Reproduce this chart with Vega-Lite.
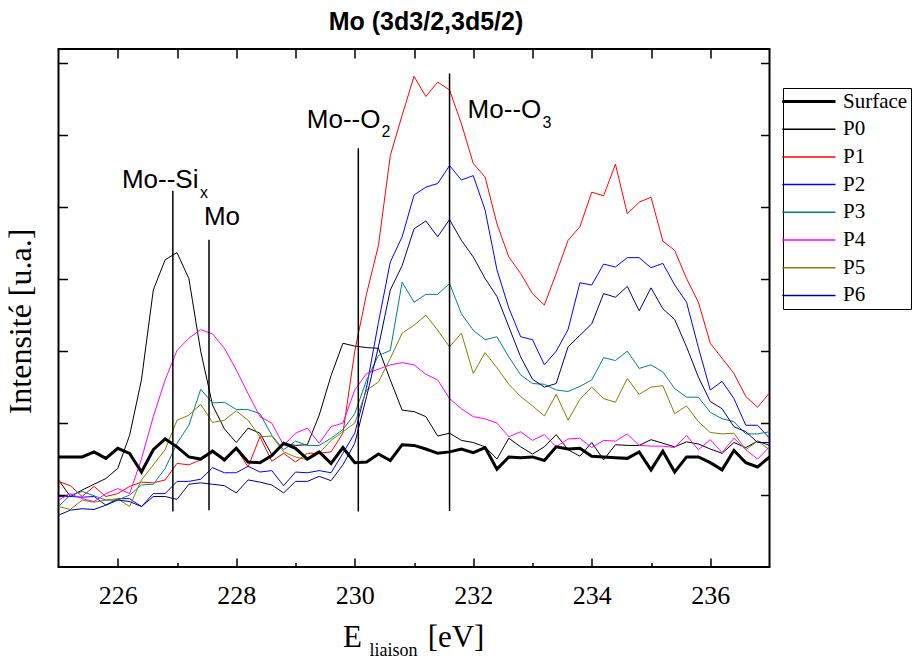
{
"$schema": "https://vega.github.io/schema/vega-lite/v6.json",
"width": 711, "height": 518,
"autosize": {"type": "none"},
"padding": {"left": 58.5, "top": 49, "right": 143.5, "bottom": 93},
"background": "white",
"config": {
  "view": {"stroke": "black", "strokeWidth": 2},
  "axis": {"domain": false, "grid": false, "tickColor": "black", "tickWidth": 1.5, "labelFont": "Liberation Serif", "labelFontSize": 26, "labelColor": "black", "titleFont": "Liberation Serif", "titleFontSize": 32, "titleFontWeight": "normal", "titleColor": "black"}
},
"title": {"text": "Mo (3d3/2,3d5/2)", "font": "Liberation Sans", "fontSize": 25, "fontWeight": "bold", "color": "black", "anchor": "middle", "dx": 12, "offset": 19, "dy": 26, "baseline": "alphabetic"},
"datasets": {
"spectra": [
{"E":225.0,"s":"P0","v":1.21},{"E":225.2,"s":"P0","v":0.98},{"E":225.4,"s":"P0","v":1.07},{"E":225.6,"s":"P0","v":1.15},{"E":225.8,"s":"P0","v":1.23},{"E":226.0,"s":"P0","v":1.37},{"E":226.2,"s":"P0","v":1.83},{"E":226.4,"s":"P0","v":2.60},{"E":226.6,"s":"P0","v":3.85},{"E":226.8,"s":"P0","v":4.27},{"E":227.0,"s":"P0","v":4.37},{"E":227.2,"s":"P0","v":4.01},{"E":227.4,"s":"P0","v":3.00},{"E":227.6,"s":"P0","v":2.25},{"E":227.8,"s":"P0","v":1.92},{"E":228.0,"s":"P0","v":1.73},{"E":228.2,"s":"P0","v":1.93},{"E":228.4,"s":"P0","v":1.86},{"E":228.6,"s":"P0","v":1.56},{"E":228.8,"s":"P0","v":1.72},{"E":229.0,"s":"P0","v":1.69},{"E":229.2,"s":"P0","v":1.70},{"E":229.4,"s":"P0","v":2.11},{"E":229.6,"s":"P0","v":2.66},{"E":229.8,"s":"P0","v":3.11},{"E":230.0,"s":"P0","v":3.07},{"E":230.2,"s":"P0","v":3.05},{"E":230.4,"s":"P0","v":3.04},{"E":230.6,"s":"P0","v":2.60},{"E":230.8,"s":"P0","v":2.18},{"E":231.0,"s":"P0","v":2.16},{"E":231.2,"s":"P0","v":2.09},{"E":231.4,"s":"P0","v":1.82},{"E":231.6,"s":"P0","v":1.86},{"E":231.8,"s":"P0","v":1.76},{"E":232.0,"s":"P0","v":1.73},{"E":232.2,"s":"P0","v":1.67},{"E":232.4,"s":"P0","v":1.50},{"E":232.6,"s":"P0","v":1.79},{"E":232.8,"s":"P0","v":1.67},{"E":233.0,"s":"P0","v":1.57},{"E":233.2,"s":"P0","v":1.67},{"E":233.4,"s":"P0","v":1.84},{"E":233.6,"s":"P0","v":1.63},{"E":233.8,"s":"P0","v":1.54},{"E":234.0,"s":"P0","v":1.73},{"E":234.2,"s":"P0","v":1.49},{"E":234.4,"s":"P0","v":1.70},{"E":234.6,"s":"P0","v":1.69},{"E":234.8,"s":"P0","v":1.69},{"E":235.0,"s":"P0","v":1.77},{"E":235.2,"s":"P0","v":1.72},{"E":235.4,"s":"P0","v":1.67},{"E":235.6,"s":"P0","v":1.74},{"E":235.8,"s":"P0","v":1.71},{"E":236.0,"s":"P0","v":1.64},{"E":236.2,"s":"P0","v":1.58},{"E":236.4,"s":"P0","v":1.73},{"E":236.6,"s":"P0","v":1.66},{"E":236.8,"s":"P0","v":1.75},{"E":237.0,"s":"P0","v":1.69},
{"E":225.0,"s":"P1","v":1.19},{"E":225.2,"s":"P1","v":1.13},{"E":225.4,"s":"P1","v":0.98},{"E":225.6,"s":"P1","v":1.12},{"E":225.8,"s":"P1","v":0.98},{"E":226.0,"s":"P1","v":1.02},{"E":226.2,"s":"P1","v":1.12},{"E":226.4,"s":"P1","v":1.18},{"E":226.6,"s":"P1","v":1.17},{"E":226.8,"s":"P1","v":1.21},{"E":227.0,"s":"P1","v":1.44},{"E":227.2,"s":"P1","v":1.42},{"E":227.4,"s":"P1","v":1.49},{"E":227.6,"s":"P1","v":1.63},{"E":227.8,"s":"P1","v":1.46},{"E":228.0,"s":"P1","v":1.65},{"E":228.2,"s":"P1","v":1.39},{"E":228.4,"s":"P1","v":1.81},{"E":228.6,"s":"P1","v":1.47},{"E":228.8,"s":"P1","v":1.58},{"E":229.0,"s":"P1","v":1.46},{"E":229.2,"s":"P1","v":1.58},{"E":229.4,"s":"P1","v":1.58},{"E":229.6,"s":"P1","v":1.60},{"E":229.8,"s":"P1","v":1.86},{"E":230.0,"s":"P1","v":3.00},{"E":230.2,"s":"P1","v":3.80},{"E":230.4,"s":"P1","v":4.47},{"E":230.6,"s":"P1","v":5.72},{"E":230.8,"s":"P1","v":6.28},{"E":231.0,"s":"P1","v":6.82},{"E":231.2,"s":"P1","v":6.54},{"E":231.4,"s":"P1","v":6.74},{"E":231.6,"s":"P1","v":6.63},{"E":231.8,"s":"P1","v":6.16},{"E":232.0,"s":"P1","v":5.61},{"E":232.2,"s":"P1","v":5.42},{"E":232.4,"s":"P1","v":4.77},{"E":232.6,"s":"P1","v":4.31},{"E":232.8,"s":"P1","v":4.08},{"E":233.0,"s":"P1","v":3.80},{"E":233.2,"s":"P1","v":3.64},{"E":233.4,"s":"P1","v":4.08},{"E":233.6,"s":"P1","v":4.54},{"E":233.8,"s":"P1","v":4.73},{"E":234.0,"s":"P1","v":5.21},{"E":234.2,"s":"P1","v":5.16},{"E":234.4,"s":"P1","v":5.60},{"E":234.6,"s":"P1","v":4.91},{"E":234.8,"s":"P1","v":5.07},{"E":235.0,"s":"P1","v":5.14},{"E":235.2,"s":"P1","v":4.53},{"E":235.4,"s":"P1","v":4.40},{"E":235.6,"s":"P1","v":4.01},{"E":235.8,"s":"P1","v":3.68},{"E":236.0,"s":"P1","v":3.11},{"E":236.2,"s":"P1","v":2.90},{"E":236.4,"s":"P1","v":2.69},{"E":236.6,"s":"P1","v":2.37},{"E":236.8,"s":"P1","v":2.22},{"E":237.0,"s":"P1","v":2.42},
{"E":225.0,"s":"P2","v":0.98},{"E":225.2,"s":"P2","v":0.98},{"E":225.4,"s":"P2","v":0.97},{"E":225.6,"s":"P2","v":0.98},{"E":225.8,"s":"P2","v":0.86},{"E":226.0,"s":"P2","v":0.95},{"E":226.2,"s":"P2","v":0.95},{"E":226.4,"s":"P2","v":0.84},{"E":226.6,"s":"P2","v":1.02},{"E":226.8,"s":"P2","v":1.02},{"E":227.0,"s":"P2","v":1.19},{"E":227.2,"s":"P2","v":1.19},{"E":227.4,"s":"P2","v":1.22},{"E":227.6,"s":"P2","v":1.38},{"E":227.8,"s":"P2","v":1.31},{"E":228.0,"s":"P2","v":1.31},{"E":228.2,"s":"P2","v":1.40},{"E":228.4,"s":"P2","v":1.32},{"E":228.6,"s":"P2","v":1.34},{"E":228.8,"s":"P2","v":1.13},{"E":229.0,"s":"P2","v":1.32},{"E":229.2,"s":"P2","v":1.31},{"E":229.4,"s":"P2","v":1.34},{"E":229.6,"s":"P2","v":1.31},{"E":229.8,"s":"P2","v":1.58},{"E":230.0,"s":"P2","v":1.86},{"E":230.2,"s":"P2","v":2.50},{"E":230.4,"s":"P2","v":3.40},{"E":230.6,"s":"P2","v":4.24},{"E":230.8,"s":"P2","v":4.59},{"E":231.0,"s":"P2","v":5.17},{"E":231.2,"s":"P2","v":5.28},{"E":231.4,"s":"P2","v":5.33},{"E":231.6,"s":"P2","v":5.58},{"E":231.8,"s":"P2","v":5.38},{"E":232.0,"s":"P2","v":5.44},{"E":232.2,"s":"P2","v":4.96},{"E":232.4,"s":"P2","v":4.13},{"E":232.6,"s":"P2","v":3.60},{"E":232.8,"s":"P2","v":3.20},{"E":233.0,"s":"P2","v":3.16},{"E":233.2,"s":"P2","v":2.81},{"E":233.4,"s":"P2","v":3.00},{"E":233.6,"s":"P2","v":3.30},{"E":233.8,"s":"P2","v":3.95},{"E":234.0,"s":"P2","v":3.92},{"E":234.2,"s":"P2","v":4.21},{"E":234.4,"s":"P2","v":4.17},{"E":234.6,"s":"P2","v":4.30},{"E":234.8,"s":"P2","v":4.30},{"E":235.0,"s":"P2","v":4.16},{"E":235.2,"s":"P2","v":4.22},{"E":235.4,"s":"P2","v":3.92},{"E":235.6,"s":"P2","v":3.68},{"E":235.8,"s":"P2","v":3.05},{"E":236.0,"s":"P2","v":2.46},{"E":236.2,"s":"P2","v":2.58},{"E":236.4,"s":"P2","v":2.34},{"E":236.6,"s":"P2","v":1.97},{"E":236.8,"s":"P2","v":1.97},{"E":237.0,"s":"P2","v":1.79},
{"E":225.0,"s":"P3","v":0.84},{"E":225.2,"s":"P3","v":1.00},{"E":225.4,"s":"P3","v":1.05},{"E":225.6,"s":"P3","v":0.99},{"E":225.8,"s":"P3","v":0.93},{"E":226.0,"s":"P3","v":0.93},{"E":226.2,"s":"P3","v":1.00},{"E":226.4,"s":"P3","v":1.14},{"E":226.6,"s":"P3","v":1.15},{"E":226.8,"s":"P3","v":1.37},{"E":227.0,"s":"P3","v":1.72},{"E":227.2,"s":"P3","v":1.97},{"E":227.4,"s":"P3","v":2.47},{"E":227.6,"s":"P3","v":2.28},{"E":227.8,"s":"P3","v":2.29},{"E":228.0,"s":"P3","v":2.19},{"E":228.2,"s":"P3","v":2.19},{"E":228.4,"s":"P3","v":2.13},{"E":228.6,"s":"P3","v":1.83},{"E":228.8,"s":"P3","v":1.63},{"E":229.0,"s":"P3","v":1.75},{"E":229.2,"s":"P3","v":1.69},{"E":229.4,"s":"P3","v":1.69},{"E":229.6,"s":"P3","v":1.79},{"E":229.8,"s":"P3","v":1.91},{"E":230.0,"s":"P3","v":2.13},{"E":230.2,"s":"P3","v":2.60},{"E":230.4,"s":"P3","v":2.94},{"E":230.6,"s":"P3","v":3.01},{"E":230.8,"s":"P3","v":3.96},{"E":231.0,"s":"P3","v":3.68},{"E":231.2,"s":"P3","v":3.79},{"E":231.4,"s":"P3","v":3.79},{"E":231.6,"s":"P3","v":3.94},{"E":231.8,"s":"P3","v":3.52},{"E":232.0,"s":"P3","v":3.29},{"E":232.2,"s":"P3","v":3.16},{"E":232.4,"s":"P3","v":3.20},{"E":232.6,"s":"P3","v":2.92},{"E":232.8,"s":"P3","v":2.67},{"E":233.0,"s":"P3","v":2.55},{"E":233.2,"s":"P3","v":2.54},{"E":233.4,"s":"P3","v":2.46},{"E":233.6,"s":"P3","v":2.44},{"E":233.8,"s":"P3","v":2.51},{"E":234.0,"s":"P3","v":2.60},{"E":234.2,"s":"P3","v":2.91},{"E":234.4,"s":"P3","v":2.87},{"E":234.6,"s":"P3","v":3.00},{"E":234.8,"s":"P3","v":2.76},{"E":235.0,"s":"P3","v":2.81},{"E":235.2,"s":"P3","v":2.71},{"E":235.4,"s":"P3","v":2.48},{"E":235.6,"s":"P3","v":2.36},{"E":235.8,"s":"P3","v":2.36},{"E":236.0,"s":"P3","v":2.15},{"E":236.2,"s":"P3","v":2.06},{"E":236.4,"s":"P3","v":2.02},{"E":236.6,"s":"P3","v":1.85},{"E":236.8,"s":"P3","v":1.85},{"E":237.0,"s":"P3","v":1.88},
{"E":225.0,"s":"P4","v":0.93},{"E":225.2,"s":"P4","v":1.02},{"E":225.4,"s":"P4","v":0.95},{"E":225.6,"s":"P4","v":0.91},{"E":225.8,"s":"P4","v":1.02},{"E":226.0,"s":"P4","v":1.09},{"E":226.2,"s":"P4","v":1.02},{"E":226.4,"s":"P4","v":1.50},{"E":226.6,"s":"P4","v":2.09},{"E":226.8,"s":"P4","v":2.60},{"E":227.0,"s":"P4","v":3.01},{"E":227.2,"s":"P4","v":3.18},{"E":227.4,"s":"P4","v":3.30},{"E":227.6,"s":"P4","v":3.24},{"E":227.8,"s":"P4","v":3.04},{"E":228.0,"s":"P4","v":2.74},{"E":228.2,"s":"P4","v":2.41},{"E":228.4,"s":"P4","v":2.09},{"E":228.6,"s":"P4","v":2.00},{"E":228.8,"s":"P4","v":1.69},{"E":229.0,"s":"P4","v":1.86},{"E":229.2,"s":"P4","v":1.93},{"E":229.4,"s":"P4","v":1.72},{"E":229.6,"s":"P4","v":1.95},{"E":229.8,"s":"P4","v":2.00},{"E":230.0,"s":"P4","v":2.46},{"E":230.2,"s":"P4","v":2.69},{"E":230.4,"s":"P4","v":2.75},{"E":230.6,"s":"P4","v":2.81},{"E":230.8,"s":"P4","v":2.84},{"E":231.0,"s":"P4","v":2.81},{"E":231.2,"s":"P4","v":2.68},{"E":231.4,"s":"P4","v":2.60},{"E":231.6,"s":"P4","v":2.34},{"E":231.8,"s":"P4","v":2.20},{"E":232.0,"s":"P4","v":2.09},{"E":232.2,"s":"P4","v":2.06},{"E":232.4,"s":"P4","v":2.00},{"E":232.6,"s":"P4","v":1.81},{"E":232.8,"s":"P4","v":1.88},{"E":233.0,"s":"P4","v":1.76},{"E":233.2,"s":"P4","v":1.84},{"E":233.4,"s":"P4","v":1.67},{"E":233.6,"s":"P4","v":1.78},{"E":233.8,"s":"P4","v":1.79},{"E":234.0,"s":"P4","v":1.66},{"E":234.2,"s":"P4","v":1.76},{"E":234.4,"s":"P4","v":1.75},{"E":234.6,"s":"P4","v":1.85},{"E":234.8,"s":"P4","v":1.69},{"E":235.0,"s":"P4","v":1.68},{"E":235.2,"s":"P4","v":1.68},{"E":235.4,"s":"P4","v":1.66},{"E":235.6,"s":"P4","v":1.83},{"E":235.8,"s":"P4","v":1.63},{"E":236.0,"s":"P4","v":1.77},{"E":236.2,"s":"P4","v":1.59},{"E":236.4,"s":"P4","v":1.79},{"E":236.6,"s":"P4","v":1.63},{"E":236.8,"s":"P4","v":1.50},{"E":237.0,"s":"P4","v":1.67},
{"E":225.0,"s":"P5","v":0.84},{"E":225.2,"s":"P5","v":0.80},{"E":225.4,"s":"P5","v":0.93},{"E":225.6,"s":"P5","v":0.90},{"E":225.8,"s":"P5","v":0.93},{"E":226.0,"s":"P5","v":0.95},{"E":226.2,"s":"P5","v":0.84},{"E":226.4,"s":"P5","v":1.21},{"E":226.6,"s":"P5","v":1.42},{"E":226.8,"s":"P5","v":1.63},{"E":227.0,"s":"P5","v":2.04},{"E":227.2,"s":"P5","v":2.11},{"E":227.4,"s":"P5","v":2.26},{"E":227.6,"s":"P5","v":2.01},{"E":227.8,"s":"P5","v":2.04},{"E":228.0,"s":"P5","v":2.17},{"E":228.2,"s":"P5","v":2.04},{"E":228.4,"s":"P5","v":1.81},{"E":228.6,"s":"P5","v":1.82},{"E":228.8,"s":"P5","v":1.60},{"E":229.0,"s":"P5","v":1.53},{"E":229.2,"s":"P5","v":1.49},{"E":229.4,"s":"P5","v":1.58},{"E":229.6,"s":"P5","v":1.76},{"E":229.8,"s":"P5","v":1.88},{"E":230.0,"s":"P5","v":2.00},{"E":230.2,"s":"P5","v":2.46},{"E":230.4,"s":"P5","v":2.57},{"E":230.6,"s":"P5","v":2.90},{"E":230.8,"s":"P5","v":3.25},{"E":231.0,"s":"P5","v":3.36},{"E":231.2,"s":"P5","v":3.50},{"E":231.4,"s":"P5","v":3.29},{"E":231.6,"s":"P5","v":3.06},{"E":231.8,"s":"P5","v":3.25},{"E":232.0,"s":"P5","v":2.69},{"E":232.2,"s":"P5","v":2.98},{"E":232.4,"s":"P5","v":2.77},{"E":232.6,"s":"P5","v":2.54},{"E":232.8,"s":"P5","v":2.37},{"E":233.0,"s":"P5","v":2.24},{"E":233.2,"s":"P5","v":2.10},{"E":233.4,"s":"P5","v":2.40},{"E":233.6,"s":"P5","v":2.04},{"E":233.8,"s":"P5","v":2.33},{"E":234.0,"s":"P5","v":2.50},{"E":234.2,"s":"P5","v":2.34},{"E":234.4,"s":"P5","v":2.29},{"E":234.6,"s":"P5","v":2.62},{"E":234.8,"s":"P5","v":2.40},{"E":235.0,"s":"P5","v":2.50},{"E":235.2,"s":"P5","v":2.52},{"E":235.4,"s":"P5","v":2.13},{"E":235.6,"s":"P5","v":2.24},{"E":235.8,"s":"P5","v":2.02},{"E":236.0,"s":"P5","v":1.87},{"E":236.2,"s":"P5","v":1.85},{"E":236.4,"s":"P5","v":1.86},{"E":236.6,"s":"P5","v":1.63},{"E":236.8,"s":"P5","v":1.75},{"E":237.0,"s":"P5","v":1.63},
{"E":225.0,"s":"P6","v":0.72},{"E":225.2,"s":"P6","v":0.79},{"E":225.4,"s":"P6","v":0.81},{"E":225.6,"s":"P6","v":0.80},{"E":225.8,"s":"P6","v":0.86},{"E":226.0,"s":"P6","v":0.93},{"E":226.2,"s":"P6","v":0.91},{"E":226.4,"s":"P6","v":0.84},{"E":226.6,"s":"P6","v":0.98},{"E":226.8,"s":"P6","v":0.98},{"E":227.0,"s":"P6","v":0.94},{"E":227.2,"s":"P6","v":1.15},{"E":227.4,"s":"P6","v":1.17},{"E":227.6,"s":"P6","v":1.15},{"E":227.8,"s":"P6","v":1.13},{"E":228.0,"s":"P6","v":1.03},{"E":228.2,"s":"P6","v":1.21},{"E":228.4,"s":"P6","v":1.18},{"E":228.6,"s":"P6","v":1.14},{"E":228.8,"s":"P6","v":1.03},{"E":229.0,"s":"P6","v":1.19},{"E":229.2,"s":"P6","v":1.19},{"E":229.4,"s":"P6","v":1.26},{"E":229.6,"s":"P6","v":1.20},{"E":229.8,"s":"P6","v":1.42},{"E":230.0,"s":"P6","v":1.72},{"E":230.2,"s":"P6","v":2.37},{"E":230.4,"s":"P6","v":3.06},{"E":230.6,"s":"P6","v":3.85},{"E":230.8,"s":"P6","v":4.19},{"E":231.0,"s":"P6","v":4.70},{"E":231.2,"s":"P6","v":4.81},{"E":231.4,"s":"P6","v":4.59},{"E":231.6,"s":"P6","v":4.83},{"E":231.8,"s":"P6","v":4.54},{"E":232.0,"s":"P6","v":4.31},{"E":232.2,"s":"P6","v":4.01},{"E":232.4,"s":"P6","v":3.76},{"E":232.6,"s":"P6","v":3.34},{"E":232.8,"s":"P6","v":2.92},{"E":233.0,"s":"P6","v":2.61},{"E":233.2,"s":"P6","v":2.50},{"E":233.4,"s":"P6","v":2.55},{"E":233.6,"s":"P6","v":3.06},{"E":233.8,"s":"P6","v":3.22},{"E":234.0,"s":"P6","v":3.38},{"E":234.2,"s":"P6","v":3.80},{"E":234.4,"s":"P6","v":3.75},{"E":234.6,"s":"P6","v":3.90},{"E":234.8,"s":"P6","v":3.56},{"E":235.0,"s":"P6","v":3.88},{"E":235.2,"s":"P6","v":3.59},{"E":235.4,"s":"P6","v":3.44},{"E":235.6,"s":"P6","v":3.06},{"E":235.8,"s":"P6","v":2.64},{"E":236.0,"s":"P6","v":2.30},{"E":236.2,"s":"P6","v":2.20},{"E":236.4,"s":"P6","v":1.95},{"E":236.6,"s":"P6","v":1.88},{"E":236.8,"s":"P6","v":1.73},{"E":237.0,"s":"P6","v":1.73},
{"E":225.0,"s":"Surface","v":1.53},{"E":225.2,"s":"Surface","v":1.53},{"E":225.4,"s":"Surface","v":1.53},{"E":225.6,"s":"Surface","v":1.60},{"E":225.8,"s":"Surface","v":1.51},{"E":226.0,"s":"Surface","v":1.65},{"E":226.2,"s":"Surface","v":1.58},{"E":226.4,"s":"Surface","v":1.32},{"E":226.6,"s":"Surface","v":1.63},{"E":226.8,"s":"Surface","v":1.78},{"E":227.0,"s":"Surface","v":1.67},{"E":227.2,"s":"Surface","v":1.53},{"E":227.4,"s":"Surface","v":1.50},{"E":227.6,"s":"Surface","v":1.61},{"E":227.8,"s":"Surface","v":1.49},{"E":228.0,"s":"Surface","v":1.65},{"E":228.2,"s":"Surface","v":1.46},{"E":228.4,"s":"Surface","v":1.45},{"E":228.6,"s":"Surface","v":1.55},{"E":228.8,"s":"Surface","v":1.72},{"E":229.0,"s":"Surface","v":1.65},{"E":229.2,"s":"Surface","v":1.50},{"E":229.4,"s":"Surface","v":1.60},{"E":229.6,"s":"Surface","v":1.44},{"E":229.8,"s":"Surface","v":1.66},{"E":230.0,"s":"Surface","v":1.45},{"E":230.2,"s":"Surface","v":1.46},{"E":230.4,"s":"Surface","v":1.57},{"E":230.6,"s":"Surface","v":1.48},{"E":230.8,"s":"Surface","v":1.70},{"E":231.0,"s":"Surface","v":1.69},{"E":231.2,"s":"Surface","v":1.64},{"E":231.4,"s":"Surface","v":1.58},{"E":231.6,"s":"Surface","v":1.60},{"E":231.8,"s":"Surface","v":1.64},{"E":232.0,"s":"Surface","v":1.59},{"E":232.2,"s":"Surface","v":1.66},{"E":232.4,"s":"Surface","v":1.36},{"E":232.6,"s":"Surface","v":1.53},{"E":232.8,"s":"Surface","v":1.52},{"E":233.0,"s":"Surface","v":1.53},{"E":233.2,"s":"Surface","v":1.48},{"E":233.4,"s":"Surface","v":1.67},{"E":233.6,"s":"Surface","v":1.64},{"E":233.8,"s":"Surface","v":1.65},{"E":234.0,"s":"Surface","v":1.54},{"E":234.2,"s":"Surface","v":1.53},{"E":234.4,"s":"Surface","v":1.52},{"E":234.6,"s":"Surface","v":1.51},{"E":234.8,"s":"Surface","v":1.60},{"E":235.0,"s":"Surface","v":1.35},{"E":235.2,"s":"Surface","v":1.61},{"E":235.4,"s":"Surface","v":1.32},{"E":235.6,"s":"Surface","v":1.53},{"E":235.8,"s":"Surface","v":1.53},{"E":236.0,"s":"Surface","v":1.45},{"E":236.2,"s":"Surface","v":1.35},{"E":236.4,"s":"Surface","v":1.62},{"E":236.6,"s":"Surface","v":1.45},{"E":236.8,"s":"Surface","v":1.39},{"E":237.0,"s":"Surface","v":1.53}
],
"refs": [
{"E":226.93,"lo":0.77,"hi":5.23},
{"E":227.54,"lo":0.79,"hi":4.55},
{"E":230.06,"lo":0.77,"hi":5.82},
{"E":231.60,"lo":0.78,"hi":6.86}
],
"names": [
{"E":226.07,"v":5.27,"t":"Mo--Si"},
{"E":227.455,"v":4.75,"t":"Mo"},
{"E":229.19,"v":6.10,"t":"Mo--O"},
{"E":231.905,"v":6.236,"t":"Mo--O"}
],
"subs": [
{"E":227.39,"v":5.125,"t":"x"},
{"E":230.45,"v":5.97,"t":"2"},
{"E":233.17,"v":6.10,"t":"3"}
],
"xtitle": [
{"E":229.80,"v":-1.11,"t":"E"},
{"E":231.23,"v":-1.11,"t":"[eV]"}
],
"xsub": [
{"E":230.25,"v":-1.24,"t":"liaison"}
]
},
"layer": [
{
 "data": {"name": "spectra"},
 "mark": {"type": "line", "clip": true},
 "encoding": {
  "x": {"field": "E", "type": "quantitative", "scale": {"domain": [225, 237], "nice": false, "zero": false},
        "axis": {"orient": "bottom", "values": [226,228,230,232,234,236], "tickSize": -9, "labelPadding": 24, "labelFlush": false, "title": null}},
  "y": {"field": "v", "type": "quantitative", "scale": {"domain": [0, 7.2], "nice": false, "zero": false},
        "axis": {"orient": "left", "values": [1,2,3,4,5,6,7], "tickSize": -9, "labels": false, "title": "Intensité [u.a.]", "titleX": -38, "titleY": 272, "titleAngle": -90, "titleAlign": "center", "titleBaseline": "middle"}},
  "color": {"field": "s", "type": "nominal",
            "scale": {"domain": ["Surface","P0","P1","P2","P3","P4","P5","P6"], "range": ["#000000","#000000","#ff0000","#0000ff","#008080","#ff00ff","#808000","#000080"]},
            "legend": {"orient": "none", "legendX": 724.5, "legendY": 39, "title": null, "strokeColor": "black", "fillColor": "white", "padding": 3, "rowPadding": 5.7,
                       "labelFont": "Liberation Serif", "labelFontSize": 21, "labelColor": "black", "labelLimit": 200, "labelOffset": 36,
                       "symbolType": "M-1.1,0H3", "symbolSize": 676, "symbolStrokeWidth": 1.5,
                       "encode": {"symbols": {"update": {"strokeWidth": {"signal": "datum.value === 'Surface' ? 3 : 1.5"}}}}}},
  "strokeWidth": {"condition": {"test": "datum.s === 'Surface'", "value": 3}, "value": 1}
 }
},
{
 "data": {"name": "refs"},
 "mark": {"type": "rule", "color": "black", "strokeWidth": 1.5},
 "encoding": {
  "x": {"field": "E", "type": "quantitative", "axis": {"orient": "top", "values": [226,227,228,229,230,231,232,233,234,235,236], "tickSize": -9, "labels": false, "title": null}},
  "y": {"field": "lo", "type": "quantitative", "axis": {"orient": "right", "values": [1,2,3,4,5,6,7], "tickSize": -9, "labels": false, "title": null}},
  "y2": {"field": "hi"}
 }
},
{
 "data": {"name": "names"},
 "mark": {"type": "text", "align": "left", "baseline": "alphabetic", "font": "Liberation Sans", "fontSize": 26, "color": "black"},
 "encoding": {
  "x": {"field": "E", "type": "quantitative", "axis": {"orient": "bottom", "values": [227,229,231,233,235], "tickSize": -4.5, "labels": false, "title": null}},
  "y": {"field": "v", "type": "quantitative", "axis": null},
  "text": {"field": "t"}
 }
},
{
 "data": {"name": "subs"},
 "mark": {"type": "text", "align": "left", "baseline": "alphabetic", "font": "Liberation Sans", "fontSize": 16, "color": "black"},
 "encoding": {
  "x": {"field": "E", "type": "quantitative", "axis": null},
  "y": {"field": "v", "type": "quantitative", "axis": null},
  "text": {"field": "t"}
 }
},
{
 "data": {"name": "xtitle"},
 "mark": {"type": "text", "align": "left", "baseline": "alphabetic", "font": "Liberation Serif", "fontSize": 31, "color": "black"},
 "encoding": {
  "x": {"field": "E", "type": "quantitative", "axis": null},
  "y": {"field": "v", "type": "quantitative", "axis": null},
  "text": {"field": "t"}
 }
},
{
 "data": {"name": "xsub"},
 "mark": {"type": "text", "align": "left", "baseline": "alphabetic", "font": "Liberation Serif", "fontSize": 18, "color": "black"},
 "encoding": {
  "x": {"field": "E", "type": "quantitative", "axis": null},
  "y": {"field": "v", "type": "quantitative", "axis": null},
  "text": {"field": "t"}
 }
}
],
"resolve": {"axis": {"x": "independent", "y": "independent"}}
}
